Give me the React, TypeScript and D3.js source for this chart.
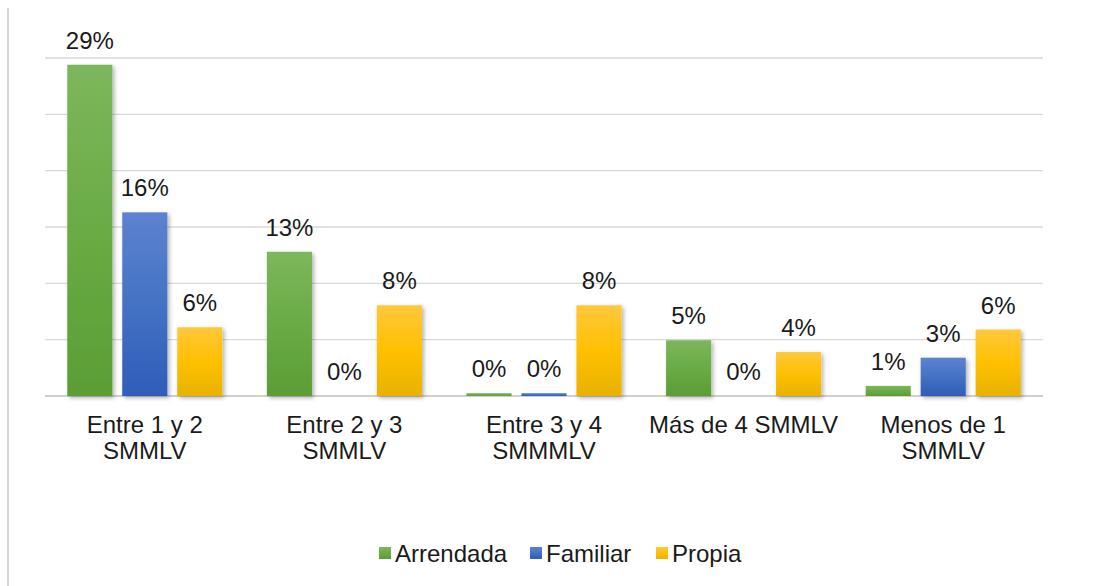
import { useEffect, useRef } from 'react'
import * as d3 from 'd3'

const CATEGORIES = ['Entre 1 y 2|SMMLV', 'Entre 2 y 3|SMMLV', 'Entre 3 y 4|SMMMLV', 'Más de 4 SMMLV', 'Menos de 1|SMMLV']
const ARRENDADA = [29.4, 12.8, 0.25, 4.95, 0.9]
const FAMILIAR = [16.3, 0, 0.25, 0, 3.4]
const PROPIA = [6.1, 8.05, 8.05, 3.9, 5.9]
const LABELS_ARR = ['29%', '13%', '0%', '5%', '1%']
const LABELS_FAM = ['16%', '0%', '0%', '0%', '3%']
const LABELS_PRO = ['6%', '8%', '8%', '4%', '6%']
const Y_TICKS = [0, 5, 10, 15, 20, 25, 30]

const SERIES = [
  { key: 'arr', label: 'Arrendada', values: ARRENDADA, labels: LABELS_ARR, top: '#7db75c', mid: '#6aab45', bot: '#5b9d35', swatch: '#6aab45' },
  { key: 'fam', label: 'Familiar', values: FAMILIAR, labels: LABELS_FAM, top: '#5d82d0', mid: '#4472c4', bot: '#2f5cb8', swatch: '#4472c4' },
  { key: 'pro', label: 'Propia', values: PROPIA, labels: LABELS_PRO, top: '#ffc83c', mid: '#ffc000', bot: '#e8b200', swatch: '#ffc000' },
]

const W = 1097
const H = 586
const FONT = 'Arial, "Liberation Sans", sans-serif'

export default function App() {
  const ref = useRef<SVGSVGElement>(null)

  useEffect(() => {
    const svg = d3.select(ref.current)
    svg.selectAll('*').remove()
    const pad = { l: 45, r: 54, t: 58, b: 190 }

    const defs = svg.append('defs')
    SERIES.forEach(s => {
      const g = defs.append('linearGradient').attr('id', 'grad-' + s.key)
        .attr('x1', 0).attr('y1', 0).attr('x2', 0).attr('y2', 1)
      g.append('stop').attr('offset', '0%').attr('stop-color', s.top)
      g.append('stop').attr('offset', '50%').attr('stop-color', s.mid)
      g.append('stop').attr('offset', '100%').attr('stop-color', s.bot)
    })
    defs.append('filter').attr('id', 'shadow').attr('x', '-30%').attr('y', '-10%').attr('width', '160%').attr('height', '130%')
      .append('feDropShadow').attr('dx', 2).attr('dy', 2).attr('stdDeviation', 2)
      .attr('flood-color', '#000').attr('flood-opacity', 0.3)

    // left border line
    svg.append('line').attr('x1', 8).attr('x2', 8).attr('y1', 8).attr('y2', H)
      .attr('stroke', '#d9d9d9').attr('stroke-width', 2)

    const x0 = d3.scaleBand().domain(CATEGORIES).range([pad.l, W - pad.r]).padding(0)
    const x1 = d3.scaleBand().domain(SERIES.map(s => s.key)).range([0, x0.bandwidth()])
      .paddingInner(0.18).paddingOuter(0.405)
    const y = d3.scaleLinear().domain([0, 30]).range([H - pad.b, pad.t])

    svg.selectAll('.grid').data(Y_TICKS).join('line')
      .attr('class', 'grid')
      .attr('x1', pad.l).attr('x2', W - pad.r)
      .attr('y1', d => y(d)).attr('y2', d => y(d))
      .attr('stroke', d => d === 0 ? '#d0d0d0' : '#d9d9d9')
      .attr('stroke-width', d => d === 0 ? 2 : 1.3)

    SERIES.forEach(s => {
      svg.append('g').selectAll('rect').data(CATEGORIES).join('rect')
        .attr('x', c => x0(c)! + x1(s.key)!)
        .attr('y', (_, i) => y(s.values[i]))
        .attr('width', x1.bandwidth())
        .attr('height', (_, i) => y(0) - y(s.values[i]))
        .attr('fill', `url(#grad-${s.key})`)
        .attr('filter', (_, i) => s.values[i] > 1 ? 'url(#shadow)' : null)

      svg.append('g').selectAll('text').data(CATEGORIES).join('text')
        .attr('x', c => x0(c)! + x1(s.key)! + x1.bandwidth() / 2)
        .attr('y', (_, i) => y(s.values[i]) - 16)
        .attr('text-anchor', 'middle')
        .attr('font-size', 24).attr('font-family', FONT).attr('fill', '#1a1a1a')
        .text((_, i) => s.labels[i])
    })

    svg.append('g').selectAll('text').data(CATEGORIES).join('text')
      .attr('text-anchor', 'middle')
      .attr('font-size', 24).attr('font-family', FONT).attr('fill', '#1a1a1a')
      .each(function (c) {
        const cx = x0(c)! + x0.bandwidth() / 2
        const el = d3.select(this)
        c.split('|').forEach((line, i) => {
          el.append('tspan').attr('x', cx).attr('y', 433 + i * 26).text(line)
        })
      })

    // legend
    const legendX = [379, 530, 656]
    const lg = svg.append('g')
    SERIES.forEach((s, i) => {
      lg.append('rect').attr('x', legendX[i]).attr('y', 547).attr('width', 12).attr('height', 12)
        .attr('fill', `url(#grad-${s.key})`)
      lg.append('text').attr('x', legendX[i] + 16).attr('y', 562)
        .attr('font-size', 24).attr('font-family', FONT).attr('fill', '#1a1a1a')
        .text(s.label)
    })
  }, [])

  return (
    <div style={{ position: 'absolute', left: 0, top: 0, width: W, height: H, background: '#fff' }}>
      <svg ref={ref} width={W} height={H} />
    </div>
  )
}
